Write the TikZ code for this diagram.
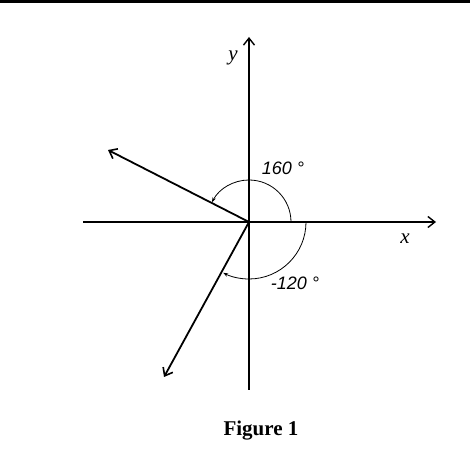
\documentclass[tikz,border=0pt]{standalone}
\usepackage{fontspec}
\setmainfont{Liberation Serif}
\newfontfamily\lsans{Liberation Sans}
\usetikzlibrary{arrows.meta}
\tikzset{
  axis/.style={line width=1.4pt,-{Straight Barb[length=7pt,width=11pt,line width=1.4pt]}},
  plainaxis/.style={line width=1.4pt},
  vec/.style={line width=1.8pt,-{Straight Barb[length=7pt,width=11pt,line width=1.6pt]}},
  anglearc/.style={line width=0.8pt,-{Stealth[length=5pt,width=3.5pt]}},
  anglelab/.style={font=\lsans\itshape\fontsize{18}{20}\selectfont,inner sep=0pt},
  axlab/.style={font=\itshape\fontsize{21}{23}\selectfont,inner sep=0pt},
  caption/.style={font=\bfseries\fontsize{21}{23}\selectfont,inner sep=0pt}
}
\begin{document}
\begin{tikzpicture}[x=1pt,y=1pt]
\useasboundingbox (0,0) rectangle (470,454);
\fill[black] (0,451) rectangle (470,454);
\coordinate (O) at (249,232);
\coordinate (xl) at (83,232);
\coordinate (xr) at (436,232);
\coordinate (yb) at (249,64);
\coordinate (yt) at (249,417);
\coordinate (v1) at (108,304);
\coordinate (v2) at (164,77);
\draw[axis] (xl) -- (xr);
\draw[axis] (yb) -- (yt);
\draw[vec] (O) -- (v1);
\draw[vec] (O) -- (v2);
\draw[anglearc] ([xshift=42pt]O) arc[start angle=0,end angle=152,radius=42];
\draw[anglearc] ([xshift=57pt]O) arc[start angle=0,end angle=-117,radius=57];
\node[anglelab] (a1) at (283,286) {160 °};
\node[anglelab] (a2) at (295,171) {-120 °};
\node[axlab] (ly) at (233,396) {y};
\node[axlab] (lx) at (405,215) {x};
\node[caption] (cap) at (261,23) {Figure 1};
\end{tikzpicture}
\end{document}
